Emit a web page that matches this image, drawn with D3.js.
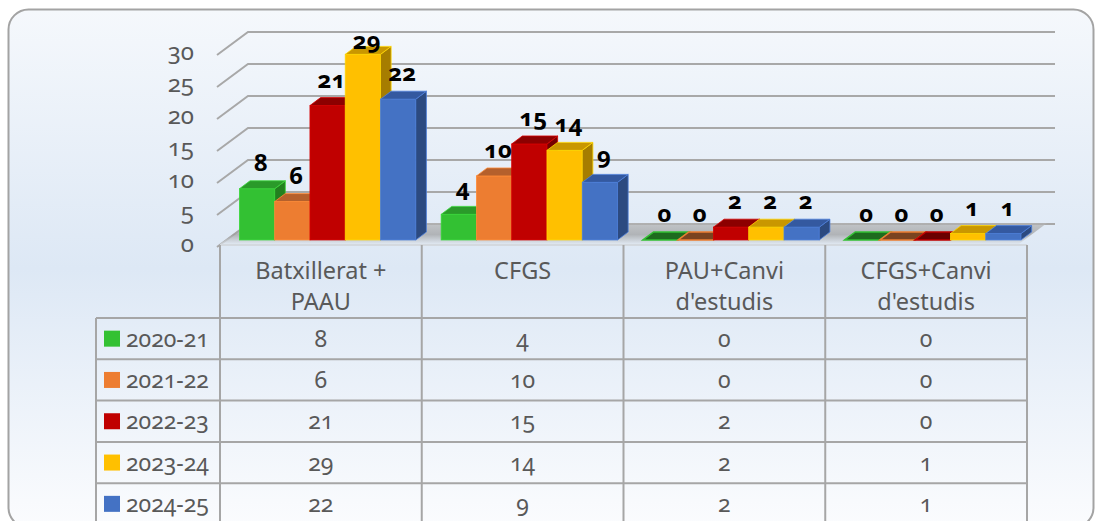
<!DOCTYPE html>
<html>
<head>
<meta charset="utf-8">
<script src="https://cdn.jsdelivr.net/npm/d3@7"></script>
<style>
  html, body { margin: 0; padding: 0; background: #ffffff; }
  svg { display: block; font-family: "Noto Sans", "Open Sans", sans-serif; font-variant-numeric: oldstyle-nums; }
</style>
</head>
<body>
<svg id="chart" width="1103" height="521"></svg>
<script>
// ---- data ----
const categories = [["Batxillerat +", "PAAU"], ["CFGS"], ["PAU+Canvi", "d'estudis"], ["CFGS+Canvi", "d'estudis"]];
const seriesNames = ["2020-21", "2021-22", "2022-23", "2023-24", "2024-25"];
const s2020 = [8, 4, 0, 0];
const s2021 = [6, 10, 0, 0];
const s2022 = [21, 15, 2, 0];
const s2023 = [29, 14, 2, 1];
const s2024 = [22, 9, 2, 1];
const seriesValues = [s2020, s2021, s2022, s2023, s2024];
const yTicks = [0, 5, 10, 15, 20, 25, 30];
const frontColors = ["#33c133", "#ed7d31", "#c00000", "#ffc000", "#4472c4"];
const topColors   = ["#2a9a2a", "#b5602c", "#8c0000", "#c99700", "#3459a0"];
const sideColors  = ["#22801f", "#a05222", "#760000", "#a67d00", "#2c4a80"];
const zeroFill    = ["#1e6b1e", "#7a4320", "#6a0000", "#8a6a00", "#23406e"];

// ---- layout ----
const svg = d3.select("#chart");
const W = 1103, H = 521;
const plotLeft = 220, plotRight = 1027;
const depthX = 28, depthY = 21;          // back wall offset
const barD0 = 0.24, barD1 = 0.62;        // bar depth range (fraction)
const tableTop = 245, headerBottom = 318, rowH = 41.3, legendLeft = 96;
const txtColor = "#595959";

const defs = svg.append("defs");
const bg = defs.append("linearGradient").attr("id", "bg").attr("x1", 0).attr("y1", 0).attr("x2", 0).attr("y2", 1);
bg.append("stop").attr("offset", "0").attr("stop-color", "#f5f8fc");
bg.append("stop").attr("offset", "0.5").attr("stop-color", "#dde8f5");
bg.append("stop").attr("offset", "1").attr("stop-color", "#fbfcfe");
const fl = defs.append("linearGradient").attr("id", "floor").attr("x1", 0).attr("y1", 0).attr("x2", 0).attr("y2", 1);
fl.append("stop").attr("offset", "0").attr("stop-color", "#b4b4b4");
fl.append("stop").attr("offset", "0.55").attr("stop-color", "#9c9c9c");
fl.append("stop").attr("offset", "1").attr("stop-color", "#dfe6ee");

svg.append("rect").attr("x", 8.5).attr("y", 9.5).attr("width", 1085).attr("height", 518)
  .attr("rx", 20).attr("ry", 20).attr("fill", "url(#bg)").attr("stroke", "#a3a3a3").attr("stroke-width", 2);

const y = d3.scaleLinear().domain([0, 30]).range([245, 53]);
const x = d3.scaleBand().domain(d3.range(categories.length)).range([plotLeft, plotRight]).paddingInner(0).paddingOuter(0);
const xs = d3.scaleBand().domain(d3.range(seriesNames.length)).range([0, x.bandwidth()]).paddingOuter(0.36).paddingInner(0);

const proj = (px, py, d) => [px + depthX * d, py - depthY * d];

// back wall gridlines with diagonal
const grid = svg.append("g");
yTicks.forEach(t => {
  const [bx, by] = proj(plotLeft, y(t), 1);
  grid.append("path")
    .attr("d", `M${plotLeft - 3},${y(t) + 2} L${bx},${by} L${plotRight + depthX},${by}`)
    .attr("fill", "none").attr("stroke", "#a8a8a8").attr("stroke-width", 2);
});

// floor
const f0 = y(0);
const pts = [[plotLeft, f0 - 1], proj(plotLeft, f0 - 1, 1), proj(plotRight - 8, f0 - 1, 1), [plotRight - 8, f0 - 1]];
svg.append("path").attr("d", "M" + pts.map(p => p.join(",")).join("L") + "Z").attr("fill", "url(#floor)").attr("opacity", 0.7);
svg.append("line").attr("x1", plotLeft).attr("x2", plotRight).attr("y1", f0).attr("y2", f0).attr("stroke", "#d4d9df").attr("stroke-width", 2);

// y tick labels
svg.append("g").selectAll("text").data(yTicks).join("text")
  .attr("x", 194).attr("y", d => y(d) + 7).attr("text-anchor", "end")
  .attr("font-size", 24).attr("fill", txtColor).text(d => d);

// bars
const barsG = svg.append("g");
const yb = v => y(v) - depthY * barD0;
const dd = barD1 - barD0;
const labels = [];
categories.forEach((c, ci) => {
  seriesNames.forEach((s, si) => {
    const v = seriesValues[si][ci];
    const x0 = x(ci) + xs(si) + depthX * barD0;
    const w = xs.bandwidth();
    const yTop = yb(v), yBot = yb(0);
    const ox = depthX * dd, oy = depthY * dd;
    const edge = d3.color(frontColors[si]).brighter(0.3);
    const g = barsG.append("g");
    if (v > 0) {
      g.append("rect").attr("x", x0).attr("y", yTop).attr("width", w).attr("height", yBot - yTop)
        .attr("fill", frontColors[si]).attr("stroke", edge).attr("stroke-width", 0.8);
      g.append("path").attr("d", `M${x0 + w},${yTop} L${x0 + w + ox},${yTop - oy} L${x0 + w + ox},${yBot - oy} L${x0 + w},${yBot}Z`)
        .attr("fill", sideColors[si]).attr("stroke", edge).attr("stroke-width", 0.8);
      g.append("path").attr("d", `M${x0},${yTop} L${x0 + ox},${yTop - oy} L${x0 + w + ox},${yTop - oy} L${x0 + w},${yTop}Z`)
        .attr("fill", topColors[si]).attr("stroke", edge).attr("stroke-width", 0.8);
    } else {
      g.append("path").attr("d", `M${x0},${yTop} L${x0 + ox},${yTop - oy} L${x0 + w + ox},${yTop - oy} L${x0 + w},${yTop}Z`)
        .attr("fill", zeroFill[si]).attr("stroke", frontColors[si]).attr("stroke-width", 1.5);
    }
    labels.push({ x: x0 + w / 2 + 4, y: Math.max(yTop - 18, 49), v });
  });
});
svg.append("g").selectAll("text").data(labels).join("text")
  .attr("x", d => d.x).attr("y", d => d.y).attr("text-anchor", "middle")
  .attr("font-size", 24).attr("font-weight", "bold").attr("fill", "#000").text(d => d.v);

// data table
const tbl = svg.append("g");
const rowsBottom = H + 10;
const lineColor = "#a6a6a6";
d3.range(categories.length + 1).forEach(i => {
  const xx = i < categories.length ? x(i) : plotRight;
  tbl.append("line").attr("x1", xx).attr("x2", xx).attr("y1", tableTop).attr("y2", rowsBottom)
    .attr("stroke", lineColor).attr("stroke-width", 2);
});
tbl.append("line").attr("x1", legendLeft).attr("x2", legendLeft).attr("y1", headerBottom).attr("y2", rowsBottom)
  .attr("stroke", lineColor).attr("stroke-width", 2);
d3.range(seriesNames.length).forEach(r => {
  const yy = headerBottom + r * rowH;
  tbl.append("line").attr("x1", legendLeft).attr("x2", plotRight).attr("y1", yy).attr("y2", yy)
    .attr("stroke", lineColor).attr("stroke-width", 2);
});
// header labels
categories.forEach((lines, ci) => {
  const cx = x(ci) + x.bandwidth() / 2;
  lines.forEach((ln, li) => {
    tbl.append("text").attr("x", cx).attr("y", 279 + li * 31)
      .attr("text-anchor", "middle").attr("font-size", 23.5).attr("fill", txtColor).text(ln);
  });
});
// legend + values
seriesNames.forEach((s, si) => {
  const cy = headerBottom + si * rowH + rowH / 2;
  tbl.append("rect").attr("x", 104).attr("y", cy - 8).attr("width", 16).attr("height", 16).attr("fill", frontColors[si]);
  tbl.append("text").attr("x", 126).attr("y", cy + 8).attr("font-size", 23).attr("fill", txtColor).text(s);
  categories.forEach((c, ci) => {
    tbl.append("text").attr("x", x(ci) + x.bandwidth() / 2).attr("y", cy + 8).attr("text-anchor", "middle")
      .attr("font-size", 23).attr("fill", txtColor).text(seriesValues[si][ci]);
  });
});
</script>
</body>
</html>
